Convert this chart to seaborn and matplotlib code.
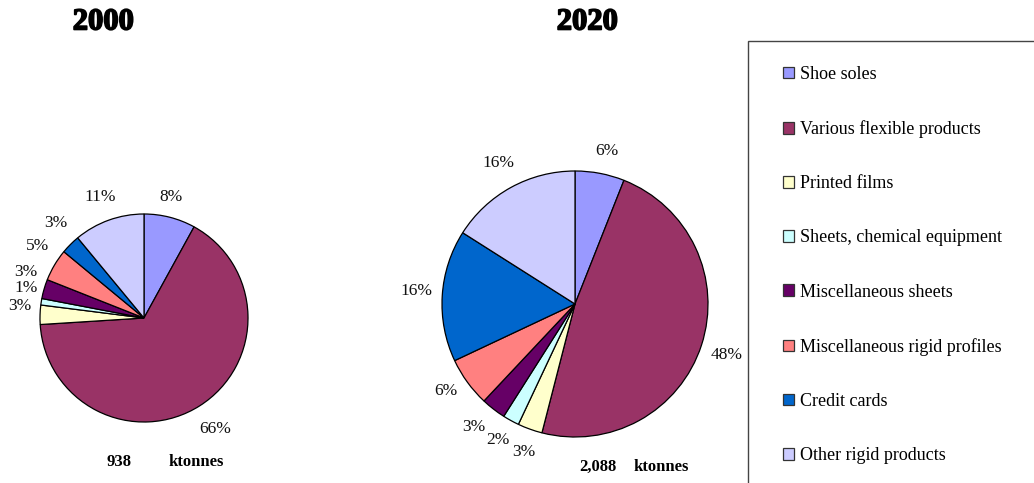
import matplotlib
matplotlib.use("Agg")
import matplotlib.pyplot as plt
import matplotlib.patheffects as pe
from matplotlib.patches import Patch, Rectangle
import seaborn as sns

# PVC end-use breakdown, shares in percent
categories = [
    "Shoe soles",
    "Various flexible products",
    "Printed films",
    "Sheets, chemical equipment",
    "Miscellaneous sheets",
    "Miscellaneous rigid profiles",
    "Credit cards",
    "Other rigid products",
]
share_2000 = [8, 66, 3, 1, 3, 5, 3, 11]
share_2020 = [6, 48, 3, 2, 3, 6, 16, 16]
years = ["2000", "2020"]
totals = ["938", "2,088"]
unit = "ktonnes"

palette = sns.color_palette(
    ["#9999FF", "#993366", "#FFFFCC", "#CCFFFF",
     "#660066", "#FF8080", "#0066CC", "#CCCCFF"]
)

sns.set_theme(style="white")
plt.rcParams["font.family"] = ["Liberation Serif", "DejaVu Serif"]
plt.rcParams["text.color"] = "black"

W, H = 1034, 483
PX = 100.0  # pixels per data unit inside the pie axes
fig = plt.figure(figsize=(W / 100, H / 100), dpi=100)


def px_axes(cx, cy, half):
    """Square axes centred on pixel (cx, cy) measured from the top-left."""
    return fig.add_axes([(cx - half) / W, (H - cy - half) / H,
                         2 * half / W, 2 * half / H])


def draw_pie(ax, values, radius, lim, nudge_x, nudge_y):
    wedges, texts = ax.pie(
        values,
        colors=palette,
        startangle=90,
        counterclock=False,
        radius=radius,
        labels=[f"{v}%" for v in values],
        labeldistance=1.2,
        wedgeprops=dict(edgecolor="black", linewidth=0.9),
        textprops=dict(fontsize=12.5, color="#111111"),
    )
    # spread crowded labels a little, like a spreadsheet auto-layout
    for t, dx, dy in zip(texts, nudge_x, nudge_y):
        x, y = t.get_position()
        t.set_position((x + dx / PX, y - dy / PX))
        t.set_ha("center")
        t.set_va("center")
    ax.set_xlim(-lim, lim)
    ax.set_ylim(-lim, lim)
    ax.set_aspect("equal")
    ax.axis("off")
    return wedges, texts


ax1 = px_axes(144, 318, 160)
draw_pie(ax1, share_2000, 1.04, 1.6,
         nudge_x=[-4, 4, 1, 5, 2, 1, 0, -2],
         nudge_y=[0, 6, -8, -10, -11, -8, -7, -4])
ax2 = px_axes(575, 304, 170)
draw_pie(ax2, share_2020, 1.33, 1.7,
         nudge_x=[2, 0, 3, 0, -3, 0, 1, 0],
         nudge_y=[4, 2, -2, -4, -3, -7, -3, -1])

# Panel titles
heavy = [pe.withStroke(linewidth=1.2, foreground="black")]
fig.text(103 / W, 1 - 22 / H, years[0], ha="center", va="center",
         fontsize=22, fontweight="bold", path_effects=heavy)
fig.text(587 / W, 1 - 22 / H, years[1], ha="center", va="center",
         fontsize=22, fontweight="bold", path_effects=heavy)

# Totals beneath each pie
fig.text(119 / W, 1 - 462 / H, totals[0], ha="center", va="center",
         fontsize=12, fontweight="bold")
fig.text(196 / W, 1 - 462 / H, unit, ha="center", va="center",
         fontsize=12, fontweight="bold")
fig.text(598 / W, 1 - 467 / H, totals[1], ha="center", va="center",
         fontsize=12, fontweight="bold")
fig.text(661 / W, 1 - 467 / H, unit, ha="center", va="center",
         fontsize=12, fontweight="bold")

# Legend frame running off the right and bottom edges
fig.patches.append(Rectangle((748 / W, -0.05), 0.5, (1 - 41 / H) + 0.05,
                             transform=fig.transFigure, facecolor="white",
                             edgecolor="#444444", linewidth=1.0, zorder=0))

handles = [Patch(facecolor=c, edgecolor="#333333", linewidth=0.9)
           for c in palette]
fig.legend(handles, categories, loc="upper left",
           bbox_to_anchor=(783 / W, 1 - 66 / H),
           frameon=False, fontsize=13, labelspacing=2.06,
           handlelength=0.62, handleheight=0.62, handletextpad=0.3,
           borderpad=0, borderaxespad=0)

fig.savefig("out.png", dpi=100, facecolor="white")
